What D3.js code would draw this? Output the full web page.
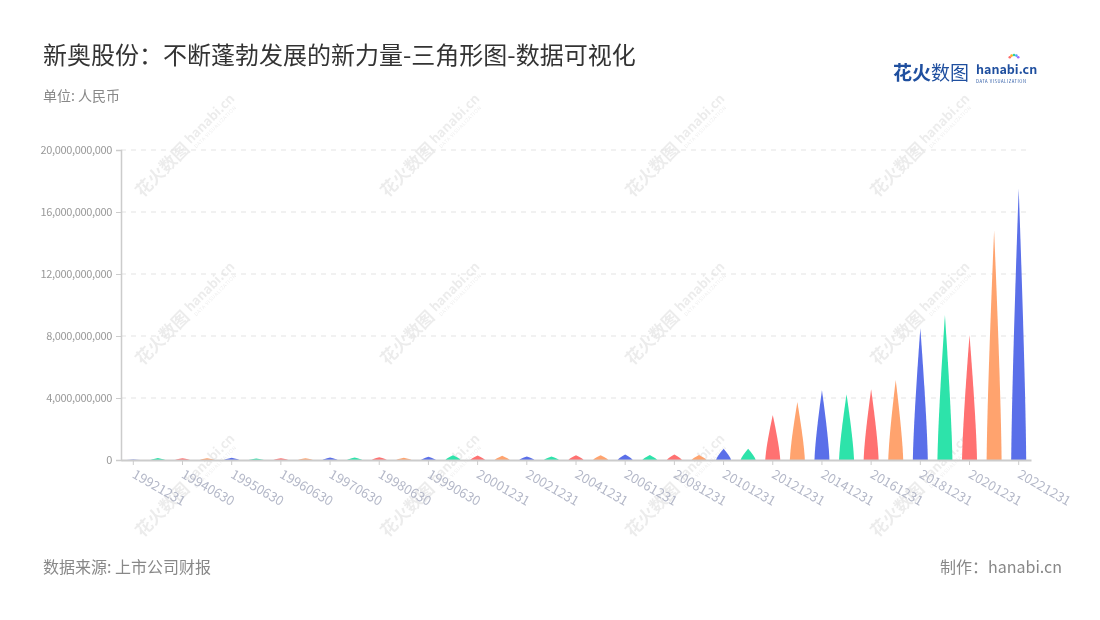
<!DOCTYPE html>
<html><head><meta charset="utf-8">
<script src="https://cdn.jsdelivr.net/npm/d3@7"></script>
<style>
html,body{margin:0;padding:0;background:#fff;}
svg text{font-family:"Noto Sans CJK SC","Noto Sans",sans-serif;}
</style></head>
<body>
<svg id="chart" width="1100" height="620"></svg>
<script>
const categories = ["19921231","19931231","19940630","19941231","19950630","19951231","19960630","19961231","19970630","19971231","19980630","19981231","19990630","19991231","20001231","20011231","20021231","20031231","20041231","20051231","20061231","20071231","20081231","20091231","20101231","20111231","20121231","20131231","20141231","20151231","20161231","20171231","20181231","20191231","20201231","20211231","20221231"];
const values = [0.03e9,0.13e9,0.11e9,0.11e9,0.14e9,0.10e9,0.11e9,0.11e9,0.16e9,0.16e9,0.17e9,0.14e9,0.21e9,0.30e9,0.29e9,0.28e9,0.22e9,0.22e9,0.30e9,0.30e9,0.36e9,0.33e9,0.35e9,0.33e9,0.72e9,0.72e9,2.9e9,3.75e9,4.5e9,4.25e9,4.56e9,5.16e9,8.5e9,9.35e9,8.06e9,14.8e9,17.5e9];
const yTicks = [0,4e9,8e9,12e9,16e9,20e9];
const palette = ["#5a6fe9","#2de3aa","#ff7171","#ffa36e"];
const title = "新奥股份：不断蓬勃发展的新力量-三角形图-数据可视化";
const unitText = "单位: 人民币";
const sourceText = "数据来源: 上市公司财报";
const makerText = "制作：hanabi.cn";

const svg = d3.select("#chart");
const M = {left:121, right:1031, top:150, bottom:460};

// watermarks
const wmX = [182,427,672,917], wmY = [150,318,490];
const wm = svg.append("g").attr("opacity",0.075);
wmX.forEach(x=>wmY.forEach(y=>{
  const g = wm.append("g").attr("transform",`translate(${x},${y}) rotate(-45)`);
  g.append("text").attr("x",-62).attr("y",6).attr("font-size",17).attr("font-weight",700).attr("fill","#000").text("花火数图");
  g.append("text").attr("x",10).attr("y",2).attr("font-size",13).attr("font-weight",700).attr("fill","#000").attr("font-family","Lato, sans-serif").text("hanabi.cn");
  g.append("text").attr("x",11).attr("y",9).attr("font-size",5).attr("fill","#000").attr("font-family","Lato, sans-serif").attr("letter-spacing",0.5).text("DATA VISUALIZATION");
}));

// title etc
svg.append("text").attr("x",43).attr("y",64).attr("font-size",24).attr("fill","#333").text(title);
svg.append("text").attr("x",43).attr("y",101).attr("font-size",14).attr("fill","#888").text(unitText);
svg.append("text").attr("x",43).attr("y",573).attr("font-size",16).attr("fill","#888").text(sourceText);
svg.append("text").attr("x",1062).attr("y",573).attr("font-size",16).attr("fill","#888").attr("text-anchor","end").text(makerText);

// logo
const logo = svg.append("g").attr("transform","translate(893,80)");
logo.append("text").attr("x",0).attr("y",0).attr("font-size",19).attr("font-weight",700).attr("fill","#1f4f9f").text("花火");
logo.append("text").attr("x",38).attr("y",0).attr("font-size",19).attr("font-weight",400).attr("fill","#1f4f9f").text("数图");
logo.append("text").attr("x",83).attr("y",-6).attr("font-size",12.5).attr("font-weight",700).attr("fill","#1f4f9f").attr("font-family","Lato, sans-serif").text("hanabi.cn");
logo.append("text").attr("x",83).attr("y",3).attr("font-size",4.2).attr("fill","#1f4f9f").attr("font-family","Lato, sans-serif").attr("letter-spacing",0.55).text("DATA VISUALIZATION");
["#ff6b6b","#ffb020","#2dd4a0","#4fa3ff","#a06bff"].forEach((c,i)=>{
  const a = -Math.PI/2 + (i-2)*0.5;
  logo.append("circle").attr("cx",121+Math.cos(a)*5).attr("cy",-20+Math.sin(a)*5).attr("r",1.3).attr("fill",c);
});

// scales
const x = d3.scaleBand().domain(categories).range([M.left,M.right]).paddingInner(0).paddingOuter(0);
const y = d3.scaleLinear().domain([0,20e9]).range([M.bottom,M.top]);

// grid
svg.append("g").selectAll("line").data(yTicks.filter(d=>d>0)).join("line")
  .attr("x1",M.left).attr("x2",M.right).attr("y1",d=>y(d)).attr("y2",d=>y(d))
  .attr("stroke","#e3e3e3").attr("stroke-width",1).attr("stroke-dasharray","5,5");

// y axis
const yAxis = svg.append("g").attr("transform",`translate(${M.left},0)`)
  .call(d3.axisLeft(y).tickValues(yTicks).tickFormat(d3.format(",")).tickSize(5).tickPadding(4));
yAxis.select(".domain").attr("stroke","#ccc").attr("stroke-width",1.5);
yAxis.selectAll(".tick line").attr("stroke","#ccc");
yAxis.selectAll(".tick text").attr("fill","#999").attr("font-size",11).attr("letter-spacing",-0.35).attr("font-family","Noto Sans CJK SC, sans-serif");

// bars (triangles)
const bw = 15;
function tri(d){
  const cx = x(d.c) + x.bandwidth()/2, b = y(0), t = y(d.v), h = b - t;
  return `M${cx-bw/2},${b} Q${cx-bw/2*0.9},${b-h*0.3} ${cx},${t} Q${cx+bw/2*0.9},${b-h*0.3} ${cx+bw/2},${b} Z`;
}
svg.append("g").selectAll("path").data(categories.map((c,i)=>({c,v:values[i],i}))).join("path")
  .attr("d",tri).attr("fill",d=>palette[d.i%4]);

// x axis
const shown = categories.filter((c,i)=>i%2===0);
const xAxis = svg.append("g").attr("transform",`translate(0,${M.bottom})`)
  .call(d3.axisBottom(x).tickValues(shown).tickSize(5).tickSizeOuter(0));
xAxis.select(".domain").attr("stroke","#ccc").attr("stroke-width",2);
xAxis.selectAll(".tick line").attr("stroke","#ccc");
xAxis.selectAll(".tick text").attr("fill","#b4b8c8").attr("font-size",13.2)
  .attr("text-anchor","start").attr("dy",0).attr("y",0)
  .attr("transform","translate(-2,17) rotate(30)");
</script>
</body></html>
